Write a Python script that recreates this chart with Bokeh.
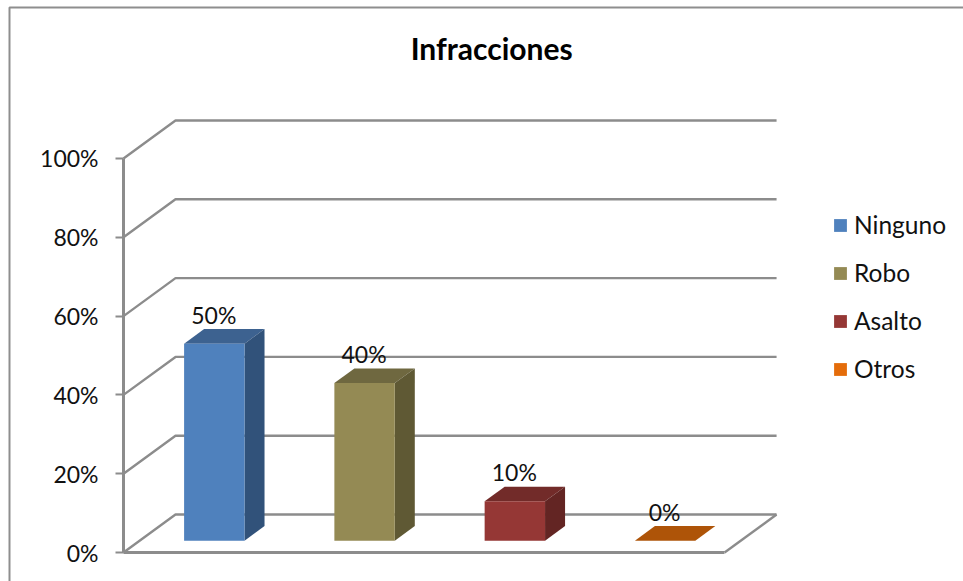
from bokeh.core.properties import value
from bokeh.embed import file_html
from bokeh.models import FixedTicker, Legend, LegendItem, LinearAxis, PrintfTickFormatter, Range1d
from bokeh.plotting import figure
from bokeh.resources import INLINE

# Chart data
title_text = "Infracciones"
categories = ["Ninguno", "Robo", "Asalto", "Otros"]
percentages = [50, 40, 10, 0]
y_ticks = [0, 20, 40, 60, 80, 100]

# Face colours of each 3D column
front_colors = ["#4F81BD", "#948A54", "#953735", "#E46C0A"]
top_colors = ["#3D6290", "#6F6840", "#722B29", "#AE5408"]
side_colors = ["#31527A", "#5F5934", "#632523", "#8A4307"]

GRID = "#8C8C8C"
FONT = "Lato"
TEXT = "#111111"

# Oblique projection: d runs 0..1 from the front of the floor to the back wall
DEPTH_U = 0.346
DEPTH_V = 9.64


def project(u, d, v):
    return u + d * DEPTH_U, v + d * DEPTH_V


BAR_WIDTH = 0.402
BAR_D0, BAR_D1 = 0.31, 0.695

X_MIN, X_MAX = -0.8186, 5.59
Y_MIN, Y_MAX = -7.36, 140.1

p = figure(
    width=963, height=581, output_backend="svg", toolbar_location=None,
    x_range=Range1d(X_MIN, X_MAX), y_range=Range1d(Y_MIN, Y_MAX),
    min_border=0, x_axis_location=None, y_axis_location=None,
    outline_line_color=None, background_fill_color="white",
)
p.grid.visible = False

# Outer chart border: only its left and top edges lie on the page
p.line([X_MIN + 0.0599, X_MIN + 0.0599, X_MAX], [Y_MIN, 138.3, 138.3],
       line_color="#8E8E8E", line_width=2)

# Back wall gridlines and the side wall diagonals
n = len(categories)
for t in y_ticks:
    x0, y0 = project(0, 0, t)
    x1, y1 = project(0, 1, t)
    x2, y2 = project(n, 1, t)
    p.line([x0, x1, x2], [y0, y1, y2], line_color=GRID, line_width=2.4)

# Right edge of the floor
x0, y0 = project(n, 0, 0)
x1, y1 = project(n, 1, 0)
p.line([x0, x1], [y0, y1], line_color=GRID, line_width=2.4)

# Value axis and floor front edge
yaxis = LinearAxis(fixed_location=0, bounds=(0, 100), ticker=FixedTicker(ticks=y_ticks),
                   formatter=PrintfTickFormatter(format="%d%%"),
                   axis_line_color=GRID, axis_line_width=3,
                   major_tick_line_color=GRID, major_tick_line_width=2,
                   major_tick_out=8, major_tick_in=0, minor_tick_line_color=None,
                   major_label_standoff=17, major_label_text_font=FONT,
                   major_label_text_font_size="23px", major_label_text_color=TEXT)
p.add_layout(yaxis, "left")
xaxis = LinearAxis(fixed_location=0, bounds=(0, n), ticker=FixedTicker(ticks=[]),
                   axis_line_color=GRID, axis_line_width=3,
                   major_tick_line_color=None, minor_tick_line_color=None,
                   major_label_text_font_size="0px")
p.add_layout(xaxis, "below")


def quad(points):
    xs, ys = zip(*points)
    return list(xs), list(ys)


legend_items = []
for i, (name, pct) in enumerate(zip(categories, percentages)):
    left = i + 0.497 - BAR_WIDTH / 2
    right = i + 0.497 + BAR_WIDTH / 2
    # Top face
    xs, ys = quad([project(left, BAR_D0, pct), project(right, BAR_D0, pct),
                   project(right, BAR_D1, pct), project(left, BAR_D1, pct)])
    p.patch(xs, ys, fill_color=top_colors[i], line_color=None)
    # Side face
    xs, ys = quad([project(right, BAR_D0, 0), project(right, BAR_D1, 0),
                   project(right, BAR_D1, pct), project(right, BAR_D0, pct)])
    p.patch(xs, ys, fill_color=side_colors[i], line_color=None)
    # Front face
    xs, ys = quad([project(left, BAR_D0, 0), project(right, BAR_D0, 0),
                   project(right, BAR_D0, pct), project(left, BAR_D0, pct)])
    front = p.patch(xs, ys, fill_color=front_colors[i], line_color=None)
    legend_items.append(LegendItem(label=name, renderers=[front]))

# Value labels over each column
label_x = []
label_y = []
for i, pct in enumerate(percentages):
    lx, ly = project(i + 0.5, BAR_D0, pct)
    label_x.append(lx)
    label_y.append(ly)
p.text(label_x, label_y, text=[f"{v}%" for v in percentages], text_align="center",
       text_baseline="middle", y_offset=-29, x_offset=-1, text_font=value(FONT),
       text_font_size="23px", text_color=TEXT)

# Chart title
p.text([2.45], [127.95], text=[title_text], text_align="center", text_baseline="middle",
       text_font=value(FONT), text_font_style="bold", text_font_size="30px", text_color="#000000")

legend = Legend(items=legend_items, location=(832, 581 - 383), orientation="vertical",
                glyph_width=16, glyph_height=16, label_standoff=6, spacing=19,
                label_height=29, padding=0, margin=0,
                border_line_color=None, background_fill_alpha=0,
                label_text_font=FONT, label_text_font_size="24.5px", label_text_color=TEXT)
p.add_layout(legend, "center")

open("out.html", "w").write(file_html(p, INLINE))
